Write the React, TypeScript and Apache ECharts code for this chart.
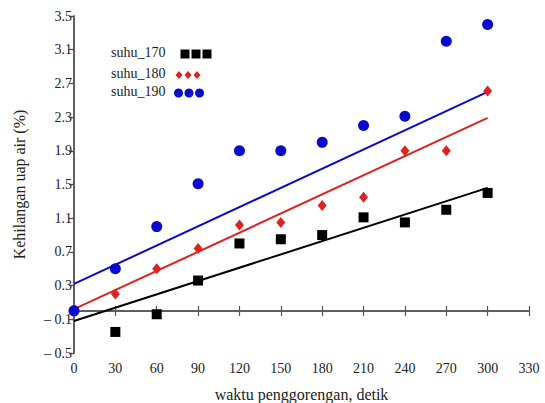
import React, { useEffect, useRef } from "react";
import * as echarts from "echarts";

const xValues = [0, 30, 60, 90, 120, 150, 180, 210, 240, 270, 300];
const suhu170 = [null, -0.25, -0.04, 0.36, 0.8, 0.85, 0.9, 1.11, 1.05, 1.2, 1.4];
const suhu180 = [0.02, 0.2, 0.5, 0.74, 1.02, 1.05, 1.25, 1.35, 1.9, 1.9, 2.61];
const suhu190 = [0.0, 0.5, 1.0, 1.51, 1.9, 1.9, 2.0, 2.2, 2.31, 3.2, 3.4];
const fitX = [0, 300];
const fit170 = [-0.12, 1.46];
const fit180 = [0.02, 2.29];
const fit190 = [0.32, 2.6];
const yTicks = [-0.5, -0.1, 0.3, 0.7, 1.1, 1.5, 1.9, 2.3, 2.7, 3.1, 3.5];
const legendNames = ["suhu_170", "suhu_180", "suhu_190"];

const BLACK = "#000000";
const RED = "#dd2222";
const BLUE = "#0a0acc";
const AXIS = "#555555";
const FONT = "Liberation Serif";

function pairs(ys: (number | null)[], xs: number[]) {
  return xs.map((x, i) => [x, ys[i]]).filter((p) => p[1] !== null);
}

export default function App() {
  const ref = useRef<HTMLDivElement>(null);
  useEffect(() => {
    if (!ref.current) return;
    const chart = echarts.init(ref.current, null, { renderer: "svg" });
    const fmtY = (v: number) => (v < 0 ? "\u2013 " + Math.abs(v).toFixed(1) : v.toFixed(1));
    const legendRows = [
      { y: 54, color: BLACK, kind: "rect" },
      { y: 75, color: RED, kind: "diamond" },
      { y: 93, color: BLUE, kind: "circle" },
    ];
    const graphics: any[] = [];
    legendRows.forEach((r, i) => {
      graphics.push({
        type: "text",
        left: 111,
        top: r.y - 9,
        style: { text: legendNames[i], font: `14px "${FONT}"`, fill: "#222" },
      });
      for (let k = 0; k < 3; k++) {
        if (r.kind === "rect") {
          const cx = 185 + k * 11;
          graphics.push({ type: "rect", shape: { x: cx - 4.5, y: r.y - 4.5, width: 9, height: 9 }, style: { fill: r.color } });
        } else if (r.kind === "diamond") {
          const cx = 179 + k * 9;
          graphics.push({
            type: "polygon",
            shape: { points: [[cx, r.y - 4], [cx + 3.5, r.y], [cx, r.y + 4], [cx - 3.5, r.y]] },
            style: { fill: r.color },
          });
        } else {
          const cx = 178.5 + k * 10.5;
          graphics.push({ type: "circle", shape: { cx, cy: r.y, r: 4.5 }, style: { fill: r.color } });
        }
      }
    });

    const axisCommon = {
      axisLine: { show: true, lineStyle: { color: AXIS, width: 1.5 } },
      axisTick: { show: true, inside: true, length: 5, lineStyle: { color: AXIS, width: 1.2 } },
      splitLine: { show: false },
    };

    chart.setOption({
      animation: false,
      backgroundColor: "#ffffff",
      grid: { left: 74, right: 16, top: 16, bottom: 50, containLabel: false, outerBoundsMode: "none" },
      xAxis: [
        {
          type: "value",
          min: 0,
          max: 330,
          interval: 30,
          position: "bottom",
          ...axisCommon,
          axisLabel: { color: "#222", fontFamily: FONT, fontSize: 14, margin: 8 },
          name: "waktu penggorengan, detik",
          nameLocation: "middle",
          nameGap: 33,
          nameTextStyle: { color: "#222", fontFamily: FONT, fontSize: 16 },
        },
        {
          type: "value",
          min: 0,
          max: 330,
          interval: 30,
          position: "top",
          ...axisCommon,
          axisLabel: { show: false },
        },
      ],
      yAxis: [
        {
          type: "value",
          min: -0.5,
          max: 3.5,
          position: "left",
          ...axisCommon,
          axisTick: { show: true, inside: false, length: 3, lineStyle: { color: AXIS, width: 1.2 }, customValues: yTicks },
          axisLabel: {
            color: "#222",
            fontFamily: FONT,
            fontSize: 14,
            margin: 2,
            customValues: yTicks,
            formatter: (v: number) => fmtY(v),
          },
          name: "Kehilangan uap air (%)",
          nameLocation: "middle",
          nameGap: 47,
          nameRotate: 90,
          nameTextStyle: { color: "#222", fontFamily: FONT, fontSize: 16 },
        },
        {
          type: "value",
          min: -0.5,
          max: 3.5,
          position: "right",
          ...axisCommon,
          axisTick: { ...axisCommon.axisTick, customValues: yTicks },
          axisLabel: { show: false, customValues: yTicks },
        },
      ],
      graphic: graphics,
      series: [
        {
          name: "fit170",
          type: "line",
          data: pairs(fit170, fitX),
          showSymbol: false,
          lineStyle: { color: BLACK, width: 2 },
          z: 2,
        },
        {
          name: "fit180",
          type: "line",
          data: pairs(fit180, fitX),
          showSymbol: false,
          lineStyle: { color: RED, width: 2 },
          z: 2,
        },
        {
          name: "fit190",
          type: "line",
          data: pairs(fit190, fitX),
          showSymbol: false,
          lineStyle: { color: BLUE, width: 2 },
          z: 2,
        },
        {
          name: legendNames[0],
          type: "scatter",
          data: pairs(suhu170, xValues),
          symbol: "rect",
          symbolSize: 10,
          itemStyle: { color: BLACK, opacity: 1 },
          z: 3,
        },
        {
          name: legendNames[1],
          type: "scatter",
          data: pairs(suhu180, xValues),
          symbol: "diamond",
          symbolSize: [9, 11],
          itemStyle: { color: RED, opacity: 1 },
          z: 3,
        },
        {
          name: legendNames[2],
          type: "scatter",
          data: pairs(suhu190, xValues),
          symbol: "circle",
          symbolSize: 11,
          itemStyle: { color: BLUE, opacity: 1 },
          z: 3,
        },
      ],
    });
    return () => chart.dispose();
  }, []);
  return <div ref={ref} style={{ width: 545, height: 403, position: "absolute", left: 0, top: 0 }} />;
}
